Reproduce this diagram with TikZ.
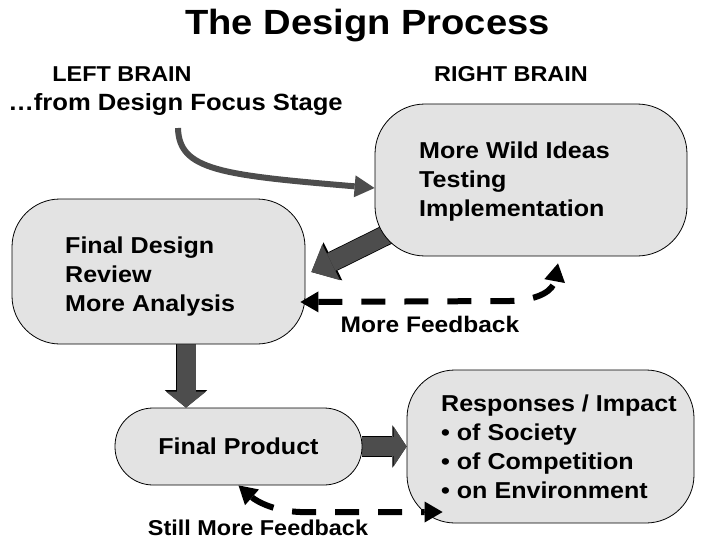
\documentclass[tikz,border=0pt]{standalone}
\usepackage{fontspec}
\setmainfont{Liberation Sans}[FakeStretch=1.09]
\usetikzlibrary{arrows.meta,backgrounds}
\definecolor{boxgray}{HTML}{E3E3E3}
\definecolor{arrowgray}{HTML}{4D4D4D}

\begin{document}
\begin{tikzpicture}[x=1pt,y=1pt,
  box/.style={draw=black,line width=0.8pt,fill=boxgray,rounded corners=#1,inner sep=0pt},
  boxtext/.style={font=\fontsize{23}{29}\selectfont\bfseries,align=left,inner sep=0pt},
  side/.style={font=\fontsize{21.5}{26}\selectfont\bfseries,inner sep=0pt},
  blockarrow/.style={draw=arrowgray,line width=19pt,
    -{Triangle[length=#1,width=40pt,line width=0pt]},
    preaction={draw=black,line width=20.6pt,
      -{Triangle[length=#1,width=42.4pt,line width=0pt,scale length=1.09]}}},
  feedback/.style={line width=6pt,dash pattern=on 24pt off 19pt,
    {Triangle[length=18pt,width=21pt,line width=0pt]}-{Triangle[length=18pt,width=21pt,line width=0pt]}}]
  \useasboundingbox (0,0) rectangle (704,542);

  % titles
  \node[font=\fontsize{35}{40}\selectfont\bfseries,anchor=base,inner sep=0pt] (title) at (367.5,507) {The Design Process};
  \node[side,anchor=base] (left) at (122,460) {LEFT BRAIN};
  \node[side,anchor=base] (right) at (511,460) {RIGHT BRAIN};
  \node[font=\fontsize{23.5}{28}\selectfont\bfseries,anchor=base,inner sep=0pt] (from) at (175.5,431) {…from Design Focus Stage};

  % boxes
  \node[box=50,minimum width=312pt,minimum height=152pt] (wild) at (531,362) {};
  \node[boxtext,anchor=west] (wildtext) at (419,360) {More Wild Ideas\\Testing\\Implementation};
  \node[box=48,minimum width=293pt,minimum height=145pt] (review) at (158.5,270.5) {};
  \node[boxtext,anchor=west] (reviewtext) at (65,265) {Final Design\\Review\\More Analysis};
  \node[box=38,minimum width=247pt,minimum height=77pt,font=\fontsize{23}{29}\selectfont\bfseries] (product) at (238.5,95.5) {Final Product};
  \node[box=48,minimum width=287pt,minimum height=153pt] (impact) at (550.5,95.5) {};
  \node[boxtext,anchor=west] (impacttext) at (441,94.9) {Responses / Impact\\• of Society\\• of Competition\\• on Environment};

  % labels
  \node[font=\fontsize{22.5}{27}\selectfont\bfseries,anchor=base,inner sep=0pt] (fb) at (430,210) {More Feedback};
  \node[side,anchor=base] (fbmore) at (258,7) {Still More Feedback};

  % block arrows behind the boxes
  \begin{scope}[on background layer]
    \draw[blockarrow=22pt] ([shift={(25,28)}]wild.south west) -- ([shift={(6,-0.5)}]review.east);
    \draw[blockarrow=16pt] ([xshift=27.5pt]review.south) -- ([xshift=27.5pt]review.south |- product.north);
    \draw[blockarrow=13pt] (product.east) -- (product.east -| impact.west);
  \end{scope}

  % curved and dashed arrows
  \draw[arrowgray,line width=6pt,-{Triangle[length=20pt,width=22pt,line width=0pt]}]
    ([shift={(2.5,-17)}]from.base) .. controls (179,372) and (220,367) .. ([yshift=-8pt]wild.west);
  \draw[feedback] ([shift={(-5,-30.5)}]review.east) -- (510,241) .. controls (540,242) and (553,252) .. ([shift={(27,-7)}]wild.south);
  \draw[feedback] (product.south) .. controls (255,42) and (272,31) .. (300,30) -- ([shift={(36,-65.5)}]impact.west);
\end{tikzpicture}
\end{document}
